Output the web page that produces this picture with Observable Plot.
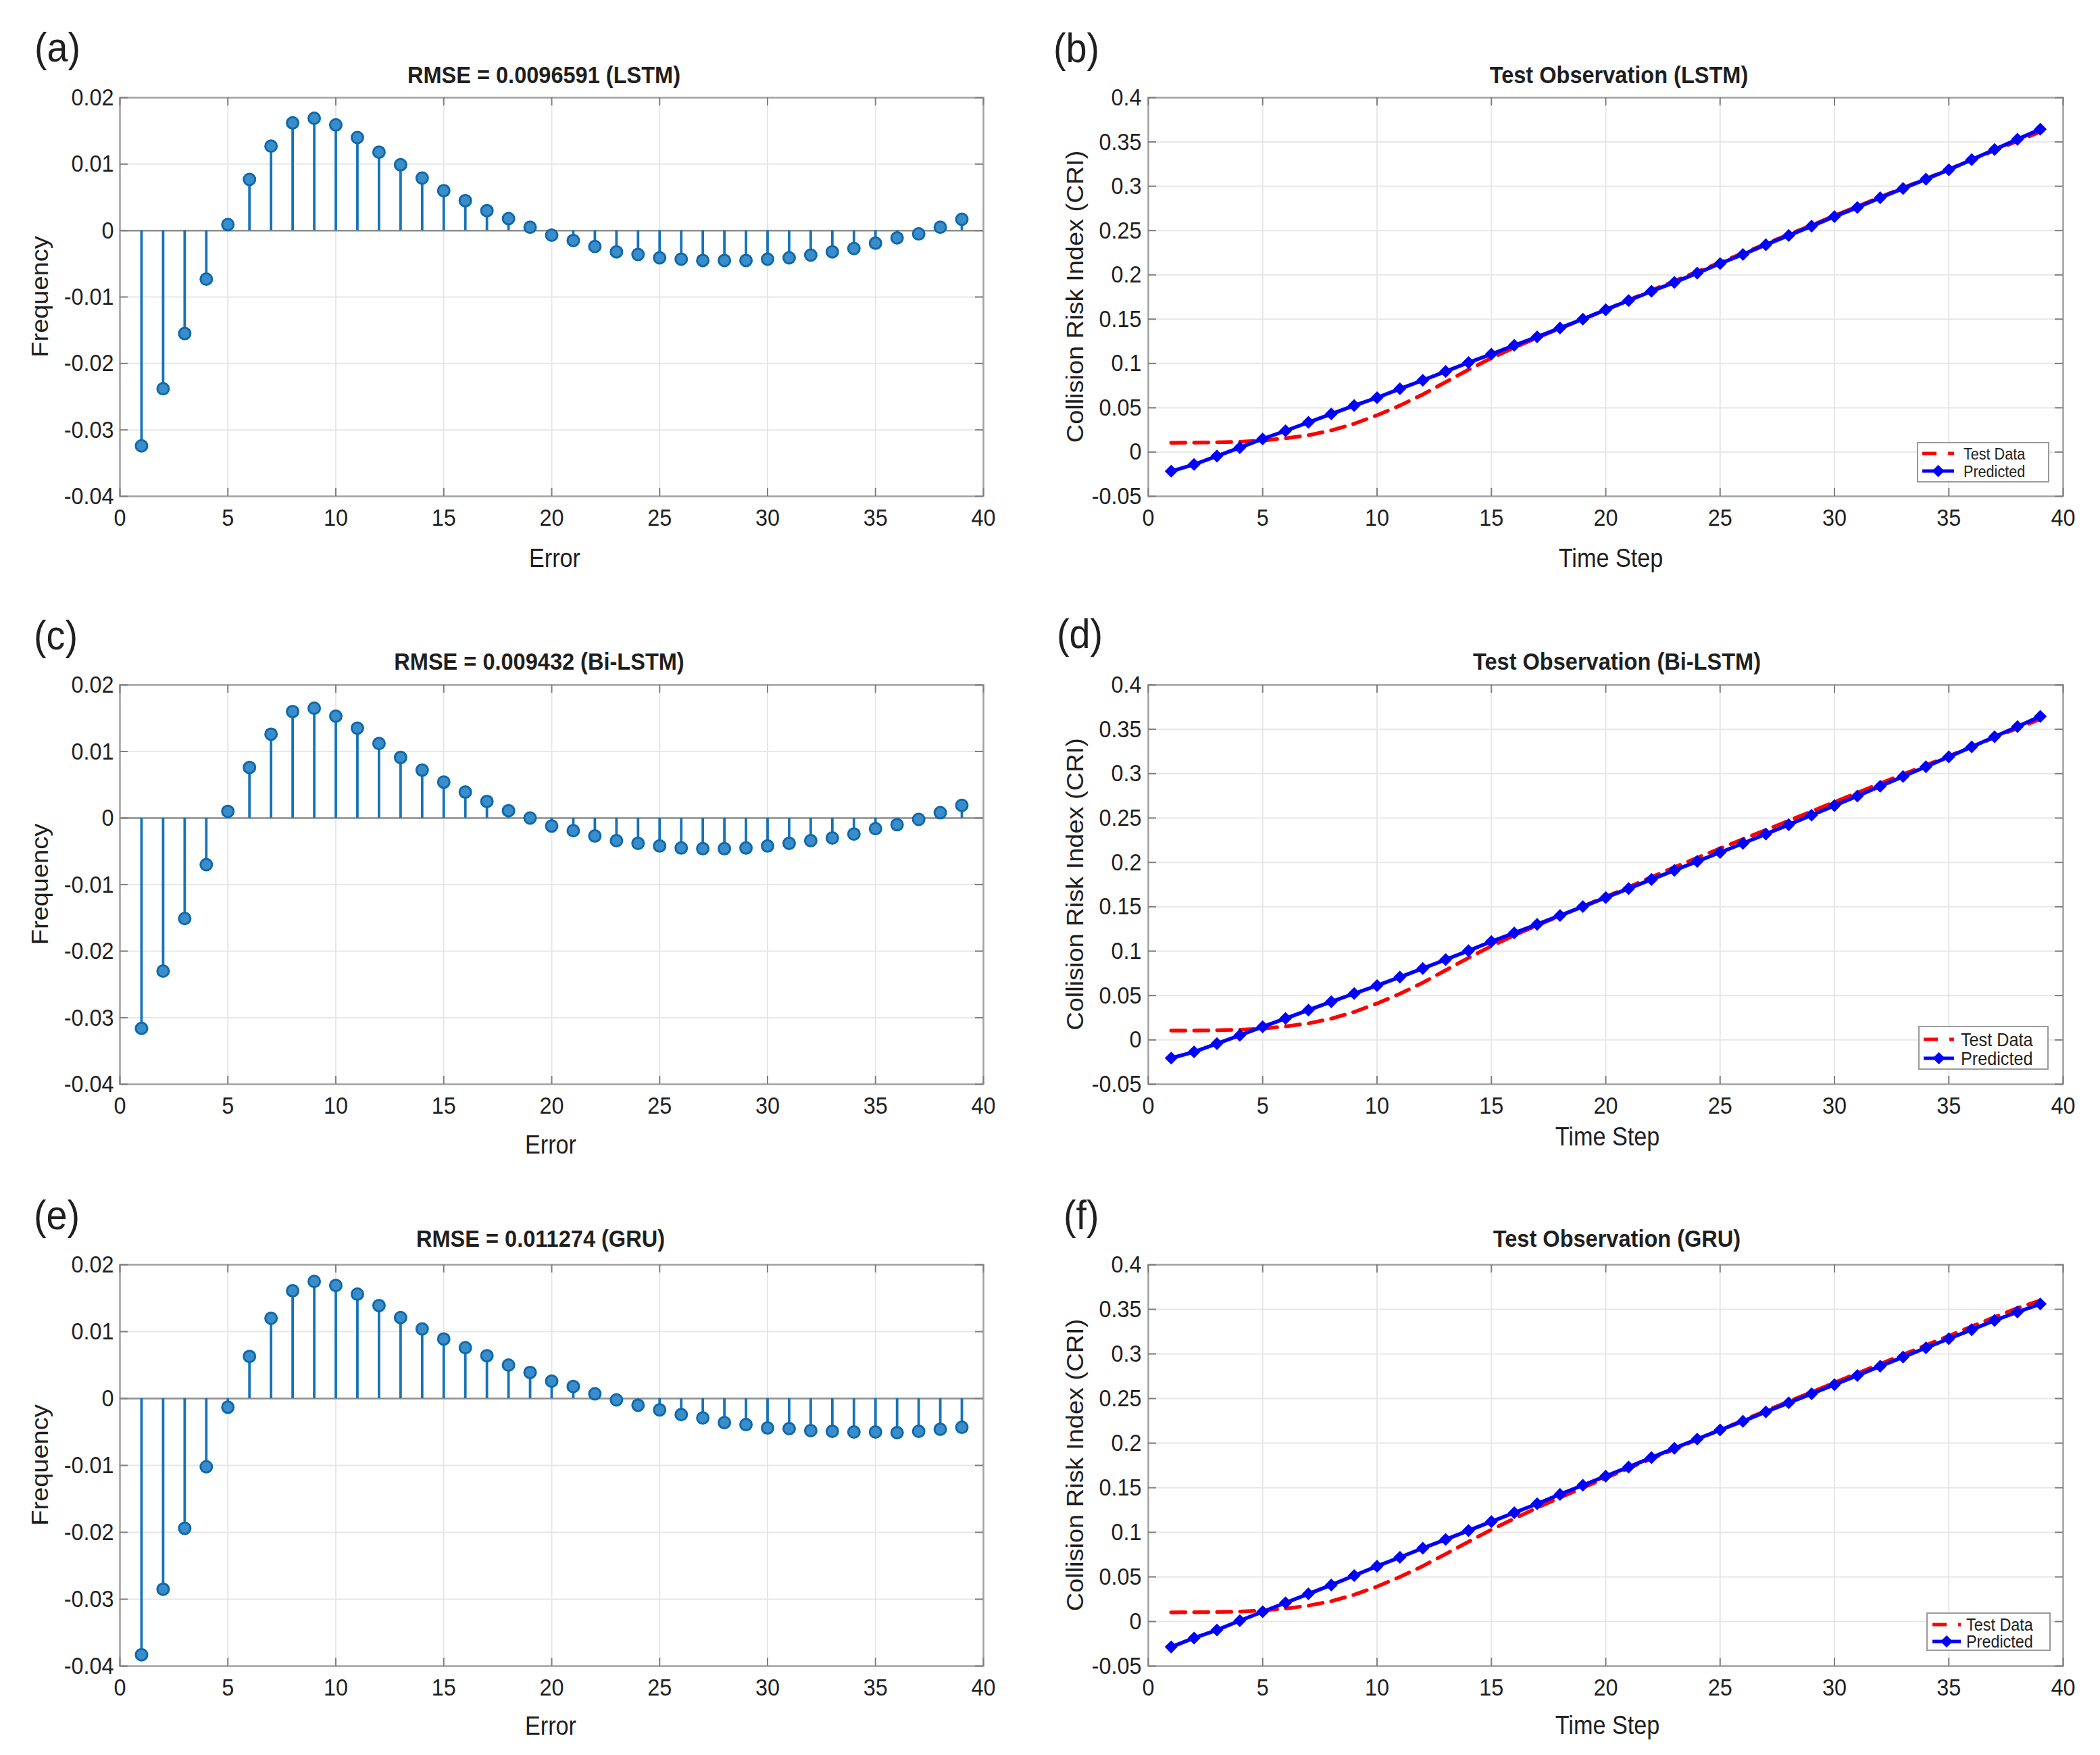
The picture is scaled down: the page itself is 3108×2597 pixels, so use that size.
<!DOCTYPE html>
<html><head><meta charset="utf-8">
<script src="https://cdn.jsdelivr.net/npm/d3@7"></script>
<script src="https://cdn.jsdelivr.net/npm/@observablehq/plot@0.6"></script>
<style>
html,body{margin:0;padding:0;background:#fff;}
#page{position:relative;width:3108px;height:2597px;background:#fff;overflow:hidden;}
#page > svg{position:absolute;}
</style></head><body><div id="page"></div>
<script>
// ---------------- data ----------------
const errorBins = [1,2,3,4,5,6,7,8,9,10,11,12,13,14,15,16,17,18,19,20,21,22,23,24,25,26,27,28,29,30,31,32,33,34,35,36,37,38,39];
const timeSteps = [1,2,3,4,5,6,7,8,9,10,11,12,13,14,15,16,17,18,19,20,21,22,23,24,25,26,27,28,29,30,31,32,33,34,35,36,37,38,39];

const stemLSTM = [-0.0324,-0.0238,-0.0155,-0.0073,0.0009,0.0077,0.0127,0.0162,0.0169,0.0159,0.0140,0.0118,0.0099,0.0079,0.0060,0.0045,0.0030,0.0018,0.0005,-0.0007,-0.0015,-0.0024,-0.0032,-0.0036,-0.0041,-0.0043,-0.0045,-0.0045,-0.0045,-0.0043,-0.0041,-0.0037,-0.0032,-0.0027,-0.0019,-0.0011,-0.0005,0.0005,0.0017];
const stemBiLSTM = [-0.0316,-0.0230,-0.0151,-0.0070,0.0010,0.0076,0.0126,0.0160,0.0165,0.0153,0.0135,0.0112,0.0091,0.0072,0.0054,0.0039,0.0025,0.0011,0.0000,-0.0012,-0.0019,-0.0027,-0.0034,-0.0038,-0.0042,-0.0045,-0.0046,-0.0046,-0.0045,-0.0042,-0.0038,-0.0034,-0.0030,-0.0024,-0.0016,-0.0010,-0.0002,0.0008,0.0019];
const stemGRU = [-0.0383,-0.0285,-0.0194,-0.0102,-0.0013,0.0063,0.0120,0.0161,0.0175,0.0169,0.0156,0.0139,0.0121,0.0104,0.0089,0.0076,0.0064,0.0050,0.0039,0.0026,0.0018,0.0007,-0.0002,-0.0010,-0.0017,-0.0024,-0.0029,-0.0036,-0.0039,-0.0044,-0.0045,-0.0048,-0.0049,-0.0050,-0.0050,-0.0051,-0.0049,-0.0046,-0.0043];

const predLSTM = [-0.0216,-0.0140,-0.0045,0.0050,0.0148,0.0240,0.0335,0.0430,0.0525,0.0614,0.0714,0.0810,0.0910,0.1010,0.1105,0.1205,0.1300,0.1400,0.1500,0.1606,0.1710,0.1815,0.1915,0.2020,0.2127,0.2230,0.2340,0.2445,0.2550,0.2657,0.2760,0.2870,0.2975,0.3080,0.3186,0.3300,0.3415,0.3530,0.3644];
const testLSTM = [0.0105,0.0107,0.0110,0.0116,0.0130,0.0155,0.0190,0.0245,0.0320,0.0415,0.0525,0.0650,0.0790,0.0930,0.1060,0.1180,0.1290,0.1395,0.1500,0.1605,0.1715,0.1825,0.1930,0.2035,0.2140,0.2245,0.2350,0.2455,0.2560,0.2668,0.2772,0.2878,0.2982,0.3085,0.3190,0.3298,0.3405,0.3510,0.3615];
const predBiLSTM = [-0.0205,-0.0135,-0.0042,0.0052,0.0148,0.0242,0.0336,0.0430,0.0522,0.0612,0.0708,0.0805,0.0905,0.1005,0.1108,0.1205,0.1302,0.1402,0.1502,0.1604,0.1705,0.1808,0.1910,0.2012,0.2112,0.2215,0.2320,0.2425,0.2532,0.2640,0.2748,0.2858,0.2968,0.3078,0.3190,0.3302,0.3415,0.3530,0.3645];
const testBiLSTM = [0.0105,0.0106,0.0109,0.0115,0.0128,0.0152,0.0186,0.0240,0.0315,0.0410,0.0520,0.0645,0.0785,0.0925,0.1058,0.1178,0.1290,0.1398,0.1505,0.1612,0.1722,0.1835,0.1945,0.2052,0.2158,0.2262,0.2365,0.2470,0.2575,0.2680,0.2785,0.2890,0.2992,0.3095,0.3198,0.3302,0.3408,0.3512,0.3615];
const predGRU = [-0.0285,-0.0185,-0.0095,0.0010,0.0110,0.0210,0.0310,0.0410,0.0515,0.0620,0.0720,0.0822,0.0920,0.1020,0.1120,0.1220,0.1320,0.1425,0.1528,0.1630,0.1732,0.1838,0.1942,0.2045,0.2148,0.2245,0.2350,0.2452,0.2553,0.2655,0.2758,0.2862,0.2965,0.3068,0.3170,0.3272,0.3375,0.3470,0.3560];
const testGRU = [0.0102,0.0104,0.0107,0.0112,0.0124,0.0145,0.0178,0.0228,0.0300,0.0392,0.0500,0.0622,0.0757,0.0895,0.1030,0.1155,0.1275,0.1390,0.1500,0.1610,0.1718,0.1825,0.1932,0.2040,0.2148,0.2255,0.2362,0.2468,0.2572,0.2678,0.2782,0.2888,0.2992,0.3098,0.3202,0.3308,0.3412,0.3515,0.3600];

const xTicks = [0,5,10,15,20,25,30,35,40];
const xTickLabels = ["0","5","10","15","20","25","30","35","40"];
const freqTicks = [-0.04,-0.03,-0.02,-0.01,0,0.01,0.02];
const freqTickLabels = ["-0.04","-0.03","-0.02","-0.01","0","0.01","0.02"];
const criTicks = [-0.05,0,0.05,0.1,0.15,0.2,0.25,0.3,0.35,0.4];
const criTickLabels = ["-0.05","0","0.05","0.1","0.15","0.2","0.25","0.3","0.35","0.4"];

const panelLetters = ["(a)","(b)","(c)","(d)","(e)","(f)"];
const stemTitles = ["RMSE = 0.0096591 (LSTM)","RMSE = 0.009432 (Bi-LSTM)","RMSE = 0.011274 (GRU)"];
const lineTitles = ["Test Observation (LSTM)","Test Observation (Bi-LSTM)","Test Observation (GRU)"];
const legendLabels = ["Test Data","Predicted"];

// ---------------- layout / style ----------------
const FONT = '"Liberation Sans", Arial, Helvetica, sans-serif';
const SX = 0.9; // horizontal text compression seen in the figure
const STEM = "#1673b8";
const GRID = "#e7e7e7";
const FRAME = "#a3a3a3";
const TICK = "#808080";
const TXT = "#1f1f1f";

const rows = [
  {top:0, h:866, ft:144, fb:734},
  {top:866, h:866, ft:1013, fb:1604},
  {top:1732, h:865, ft:1871, fb:2465}
];
const cols = [
  {left:0, w:1554, fl:177, fr:1455},
  {left:1554, w:1554, fl:1699, fr:3053}
];

const page = document.getElementById("page");
const xMap = new Map(xTicks.map((d,i)=>[d,xTickLabels[i]]));
const fMap = new Map(freqTicks.map((d,i)=>[d,freqTickLabels[i]]));
const cMap = new Map(criTicks.map((d,i)=>[d,criTickLabels[i]]));

function frameMarks(yTicks, fw, fh){
  return [
    Plot.frame({stroke:FRAME, strokeWidth:2.5}),
    Plot.tickX(xTicks, {x:d=>d, insetTop:fh-12, stroke:TICK, strokeWidth:2}),
    Plot.tickX(xTicks, {x:d=>d, insetBottom:fh-12, stroke:TICK, strokeWidth:2}),
    Plot.tickY(yTicks, {y:d=>d, insetRight:fw-12, stroke:TICK, strokeWidth:2}),
    Plot.tickY(yTicks, {y:d=>d, insetLeft:fw-12, stroke:TICK, strokeWidth:2})
  ];
}

function squeezeTicks(svg){
  svg.querySelectorAll('g[aria-label$="tick label"] text').forEach(t=>{
    const tr = t.getAttribute("transform");
    if (tr) t.setAttribute("transform", tr + ` scale(${SX},1)`);
    else {
      const x = t.getAttribute("x")||0, y = t.getAttribute("y")||0;
      t.removeAttribute("x"); t.removeAttribute("y");
      t.setAttribute("transform", `translate(${x},${y}) scale(${SX},1)`);
    }
  });
}

function place(svg, r, c){
  svg.style.left = c.left + "px";
  svg.style.top = r.top + "px";
  squeezeTicks(svg);
  page.appendChild(svg);
}

function stemPanel(values, r, c){
  const data = errorBins.map((x,i)=>({x, y:values[i]}));
  const fw = c.fr - c.fl, fh = r.fb - r.ft;
  const svg = Plot.plot({
    width:c.w, height:r.h,
    marginLeft:c.fl-c.left, marginRight:c.left+c.w-c.fr,
    marginTop:r.ft-r.top, marginBottom:r.top+r.h-r.fb,
    style:{fontFamily:FONT, background:"transparent", color:TXT, overflow:"visible"},
    x:{domain:[0,40]}, y:{domain:[-0.04,0.02]},
    marks:[
      Plot.gridX(xTicks, {stroke:GRID, strokeOpacity:1, strokeWidth:2}),
      Plot.gridY(freqTicks, {stroke:GRID, strokeOpacity:1, strokeWidth:2}),
      Plot.ruleY([0], {stroke:"#8e8e8e", strokeWidth:2.5}),
      Plot.ruleX(data, {x:"x", y1:0, y2:"y", stroke:STEM, strokeWidth:3.8}),
      Plot.dot(data, {x:"x", y:"y", r:8.5, fill:"#3b8dca", stroke:"#0d69ad", strokeWidth:3}),
      ...frameMarks(freqTicks, fw, fh),
      Plot.axisX(xTicks, {anchor:"bottom", tickSize:0, tickPadding:18, fontSize:36, label:null, tickFormat:d=>xMap.get(d)}),
      Plot.axisY(freqTicks, {anchor:"left", tickSize:0, tickPadding:9, fontSize:36, label:null, tickFormat:d=>fMap.get(d)})
    ]
  });
  place(svg, r, c);
}

function linePanel(test, pred, r, c){
  const tData = timeSteps.map((x,i)=>({x, y:test[i]}));
  const pData = timeSteps.map((x,i)=>({x, y:pred[i]}));
  const fw = c.fr - c.fl, fh = r.fb - r.ft;
  const svg = Plot.plot({
    width:c.w, height:r.h,
    marginLeft:c.fl-c.left, marginRight:c.left+c.w-c.fr,
    marginTop:r.ft-r.top, marginBottom:r.top+r.h-r.fb,
    style:{fontFamily:FONT, background:"transparent", color:TXT, overflow:"visible"},
    x:{domain:[0,40]}, y:{domain:[-0.05,0.4]},
    marks:[
      Plot.gridX(xTicks, {stroke:GRID, strokeOpacity:1, strokeWidth:2}),
      Plot.gridY(criTicks, {stroke:GRID, strokeOpacity:1, strokeWidth:2}),
      Plot.line(tData, {x:"x", y:"y", stroke:"#ff0000", strokeWidth:5.5, strokeDasharray:"21,13"}),
      Plot.line(pData, {x:"x", y:"y", stroke:"#0000ff", strokeWidth:5.5}),
      Plot.dot(pData, {x:"x", y:"y", symbol:"diamond2", r:7, fill:"#0000ff", stroke:"#0000ff", strokeWidth:2.5}),
      ...frameMarks(criTicks, fw, fh),
      Plot.axisX(xTicks, {anchor:"bottom", tickSize:0, tickPadding:18, fontSize:36, label:null, tickFormat:d=>xMap.get(d)}),
      Plot.axisY(criTicks, {anchor:"left", tickSize:0, tickPadding:10, fontSize:36, label:null, tickFormat:d=>cMap.get(d)})
    ]
  });
  place(svg, r, c);
}

stemPanel(stemLSTM, rows[0], cols[0]);
linePanel(testLSTM, predLSTM, rows[0], cols[1]);
stemPanel(stemBiLSTM, rows[1], cols[0]);
linePanel(testBiLSTM, predBiLSTM, rows[1], cols[1]);
stemPanel(stemGRU, rows[2], cols[0]);
linePanel(testGRU, predGRU, rows[2], cols[1]);

// ---------------- text overlay (titles, letters, axis labels, legends) ----------------
const ov = d3.select(page).append("svg")
  .attr("width",3108).attr("height",2597)
  .style("left","0px").style("top","0px")
  .attr("font-family", FONT).attr("fill", TXT);

function txt(x, y, s, size, opt={}){
  const rot = opt.rotate ? " rotate(-90)" : "";
  const sx = opt.sx ?? SX;
  ov.append("text")
    .attr("transform", `translate(${x},${y}) scale(${sx},1)${rot}`)
    .attr("text-anchor", opt.anchor || "middle")
    .attr("font-size", size)
    .attr("font-weight", opt.weight || "normal")
    .text(s);
}

const letterPos = [[51,91],[1559,92],[50,961],[1564,959],[50,1819],[1574,1819]];
letterPos.forEach((p,i)=>txt(p[0], p[1], panelLetters[i], 62, {anchor:"start"}));

const titleLeft = [[805,123],[798,991],[800,1845]];
const titleRight = [[2396,123],[2393,991],[2393,1845]];
titleLeft.forEach((p,i)=>txt(p[0], p[1], stemTitles[i], 35, {weight:"bold", sx:0.93}));
titleRight.forEach((p,i)=>txt(p[0], p[1], lineTitles[i], 35, {weight:"bold", sx:0.93}));

const errLab = [[821,839],[815,1707],[815,2567]];
const timeLab = [[2384,839],[2379,1695],[2379,2566]];
errLab.forEach(p=>txt(p[0], p[1], "Error", 38));
timeLab.forEach(p=>txt(p[0], p[1], "Time Step", 38));

rows.forEach(r=>{
  const cy = (r.ft + r.fb)/2;
  txt(71, cy, "Frequency", 38, {rotate:true});
  txt(1603, cy, "Collision Risk Index (CRI)", 38, {rotate:true});
});

const legends = [
  {x0:2838, x1:3032, y0:655, y1:713, r1:671, r2:697, l0:2845, l1:2892, tx:2906, fs:24},
  {x0:2840, x1:3031, y0:1519, y1:1582, r1:1538, r2:1566, l0:2847, l1:2892, tx:2902, fs:28},
  {x0:2852, x1:3034, y0:2387, y1:2442, r1:2404, r2:2429, l0:2860, l1:2902, tx:2910, fs:26}
];
legends.forEach(L=>{
  ov.append("rect").attr("x",L.x0).attr("y",L.y0).attr("width",L.x1-L.x0).attr("height",L.y1-L.y0)
    .attr("fill","#fff").attr("stroke","#9a9a9a").attr("stroke-width",2);
  ov.append("line").attr("x1",L.l0).attr("x2",L.l1).attr("y1",L.r1).attr("y2",L.r1)
    .attr("stroke","#ff0000").attr("stroke-width",5).attr("stroke-dasharray","21,17");
  ov.append("line").attr("x1",L.l0).attr("x2",L.l1).attr("y1",L.r2).attr("y2",L.r2)
    .attr("stroke","#0000ff").attr("stroke-width",5);
  ov.append("path").attr("d", d3.symbol(d3.symbolDiamond2, 150)())
    .attr("transform",`translate(${(L.l0+L.l1)/2},${L.r2})`)
    .attr("fill","#0000ff").attr("stroke","#0000ff").attr("stroke-width",2);
  txt(L.tx, L.r1 + 0.36*L.fs, legendLabels[0], L.fs, {anchor:"start"});
  txt(L.tx, L.r2 + 0.36*L.fs, legendLabels[1], L.fs, {anchor:"start"});
});
</script></body></html>
